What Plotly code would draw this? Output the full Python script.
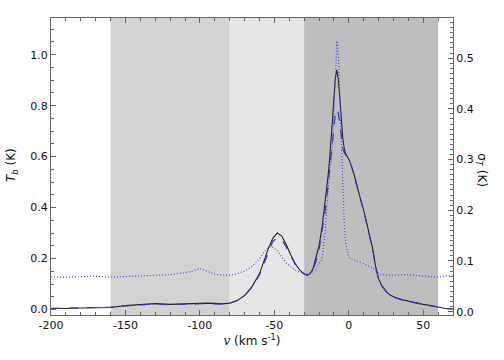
import plotly.graph_objects as go

# Velocity grid (km/s)
v = [-200, -190, -180, -170, -160, -150, -140, -130, -120, -110, -105, -100, -95, -90, -85, -80,
     -75, -70, -65, -60, -57, -54, -51, -48, -45, -42, -39, -36, -33, -30, -28, -26, -24, -22,
     -20, -18, -16, -14, -13, -12, -11, -10, -9, -8, -7, -6, -5, -4, -3, -2, 0, 2, 4, 6, 8, 10,
     12, 14, 16, 18, 20, 22, 24, 26, 28, 32, 36, 40, 45, 50, 55, 60, 65, 70]

# Brightness temperature, solid line (K)
tb_solid = [0.005, 0.004, 0.006, 0.006, 0.008, 0.015, 0.020, 0.023, 0.020, 0.022, 0.024, 0.026, 0.025, 0.024, 0.022, 0.025,
            0.035, 0.055, 0.090, 0.140, 0.190, 0.240, 0.280, 0.300, 0.288, 0.255, 0.215, 0.180, 0.155, 0.140, 0.135, 0.140, 0.160, 0.200,
            0.250, 0.320, 0.410, 0.520, 0.580, 0.650, 0.740, 0.830, 0.910, 0.940, 0.900, 0.830, 0.740, 0.670, 0.630, 0.610, 0.590, 0.560, 0.520, 0.470, 0.430, 0.390,
            0.340, 0.290, 0.240, 0.170, 0.120, 0.095, 0.078, 0.065, 0.056, 0.045, 0.038, 0.032, 0.026, 0.020, 0.016, 0.010, 0.004, 0.002]

# Brightness temperature, dashed line (K)
tb_dashed = [0.004, 0.005, 0.005, 0.007, 0.009, 0.014, 0.019, 0.022, 0.019, 0.021, 0.023, 0.024, 0.023, 0.022, 0.021, 0.024,
             0.034, 0.054, 0.088, 0.135, 0.180, 0.228, 0.268, 0.280, 0.275, 0.245, 0.210, 0.178, 0.153, 0.139, 0.135, 0.139, 0.155, 0.190,
             0.235, 0.300, 0.380, 0.480, 0.540, 0.600, 0.670, 0.730, 0.770, 0.785, 0.770, 0.730, 0.670, 0.630, 0.615, 0.605, 0.588, 0.558, 0.518, 0.468, 0.428, 0.388,
             0.338, 0.288, 0.238, 0.168, 0.118, 0.093, 0.076, 0.063, 0.054, 0.044, 0.037, 0.031, 0.025, 0.019, 0.015, 0.009, 0.004, 0.002]

# Noise sigma_T, dotted line (K, right axis)
sigma_t = [0.069, 0.068, 0.069, 0.070, 0.068, 0.069, 0.071, 0.072, 0.073, 0.077, 0.080, 0.085, 0.080, 0.074, 0.072, 0.072,
           0.075, 0.080, 0.089, 0.104, 0.117, 0.127, 0.127, 0.120, 0.108, 0.096, 0.089, 0.082, 0.078, 0.075, 0.074, 0.076, 0.079, 0.082,
           0.095, 0.104, 0.155, 0.240, 0.270, 0.295, 0.325, 0.396, 0.481, 0.534, 0.506, 0.416, 0.315, 0.235, 0.170, 0.135, 0.107, 0.104, 0.101, 0.099, 0.097, 0.094,
           0.092, 0.089, 0.087, 0.080, 0.075, 0.073, 0.072, 0.072, 0.072, 0.073, 0.073, 0.073, 0.072, 0.071, 0.070, 0.068, 0.070, 0.070]

# Shaded velocity windows
win_start = [-160, -80, -30]
win_end = [-80, -30, 60]
win_color = ["#d2d2d2", "#e6e6e6", "#bebebe"]

x_ticks = [-200, -150, -100, -50, 0, 50]
y_ticks = [0.0, 0.2, 0.4, 0.6, 0.8, 1.0]
y2_ticks = [0.0, 0.1, 0.2, 0.3, 0.4, 0.5]

FONT = "DejaVu Sans, Liberation Sans, Arial, sans-serif"
AX = "#666666"

fig = go.Figure()
fig.add_trace(go.Scatter(x=v, y=tb_solid, mode="lines", line=dict(color="#222222", width=1.1), showlegend=False))
fig.add_trace(go.Scatter(x=v, y=tb_dashed, mode="lines", line=dict(color="#3030d0", width=1.2, dash="dash"), showlegend=False))
fig.add_trace(go.Scatter(x=v, y=sigma_t, mode="lines", yaxis="y2", line=dict(color="#4848ff", width=1.2, dash="1px,2px"), showlegend=False))

for s, e, c in zip(win_start, win_end, win_color):
    fig.add_shape(type="rect", xref="x", yref="paper", x0=s, x1=e, y0=0, y1=1,
                  fillcolor=c, line=dict(width=0), layer="below")

tickstyle = dict(ticks="inside", ticklen=5, tickcolor=AX, tickwidth=1, automargin=False,
                 showline=True, linecolor=AX, linewidth=1, showgrid=False, zeroline=False,
                 tickfont=dict(family=FONT, size=11, color="#111"))

fig.update_layout(
    width=504, height=360,
    margin=dict(l=50.5, r=50.7, t=18.3, b=45),
    paper_bgcolor="white", plot_bgcolor="white",
    font=dict(family=FONT, size=11, color="#111"),
    xaxis=dict(range=[-200, 70], tickvals=x_ticks, ticktext=[str(t) for t in x_ticks], mirror="ticks",
               minor=dict(dtick=10, ticks="inside", ticklen=3, tickcolor=AX),
               title=dict(text="<span style=\"font-family:'DejaVu Serif'\"><i>v</i></span> (km s<sup>-1</sup>)",
                          font=dict(family=FONT, size=12), standoff=0),
               **tickstyle),
    yaxis=dict(range=[-0.0216, 1.144], tickvals=y_ticks, ticktext=["%.1f" % t for t in y_ticks],
               minor=dict(dtick=0.05, ticks="inside", ticklen=3, tickcolor=AX),
               **tickstyle),
    yaxis2=dict(range=[-0.0065, 0.579], overlaying="y", side="right", tickvals=y2_ticks,
                ticktext=["%.1f" % t for t in y2_ticks],
                minor=dict(dtick=0.01, ticks="inside", ticklen=3, tickcolor=AX),
                **tickstyle),
    annotations=[
        dict(text="<i>T</i><sub><i>b</i></sub> (K)", xref="paper", yref="paper", x=-0.097, y=0.505,
             showarrow=False, textangle=-90, font=dict(family=FONT, size=12), xanchor="center", yanchor="middle"),
        dict(text="σ<sub><i>T</i></sub> (K)", xref="paper", yref="paper", x=1.071, y=0.489,
             showarrow=False, textangle=90, font=dict(family=FONT, size=12), xanchor="center", yanchor="middle"),
    ],
)

# Remove the default 8px page margin so the 504x360 figure fills the window exactly.
fig.write_html("out.html", config={"displayModeBar": False},
               post_script="document.body.style.margin='0';document.body.style.overflow='hidden';")
